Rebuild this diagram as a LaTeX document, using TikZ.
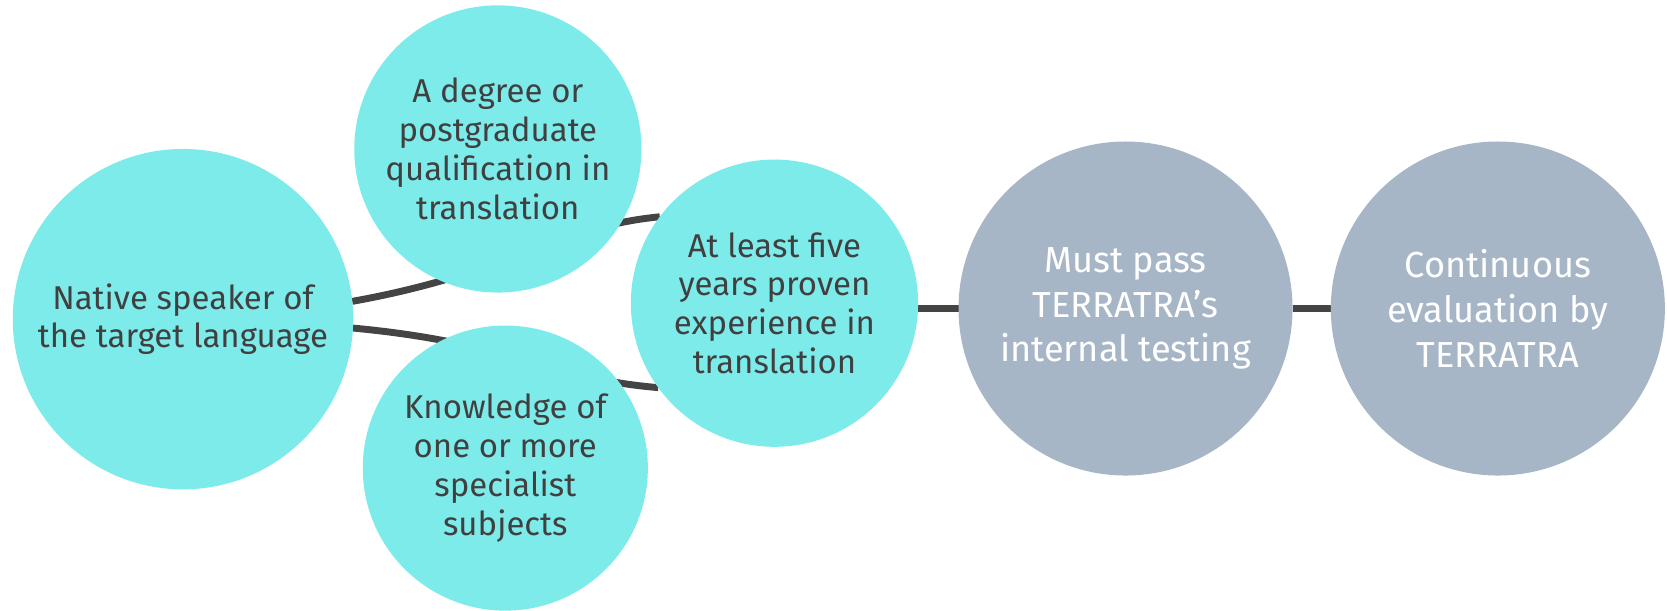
\documentclass[tikz,border=0pt]{standalone}
\usepackage{fontspec}
\setmainfont{Fira Sans}
\usetikzlibrary{backgrounds}
\definecolor{cyanfill}{HTML}{7EEBEB}
\definecolor{grayfill}{HTML}{A6B6C6}
\definecolor{ink}{HTML}{404040}
\definecolor{linec}{HTML}{444444}
\tikzset{
  bubble/.style={circle, draw=none, inner sep=0pt, outer sep=0pt, align=center,
    minimum size=#1},
  cyanbub/.style={bubble=#1, fill=cyanfill, text=ink, font=\fontsize{31}{36.5}\selectfont},
  graybub/.style={bubble=#1, fill=grayfill, text=white, font=\fontsize{34}{42}\selectfont},
  link/.style={draw=linec, line width=6.5pt}
}
\begin{document}
\begin{tikzpicture}[x=1pt,y=-1pt]
\useasboundingbox (0,0) rectangle (1567,574);
\node[cyanbub=320pt] (native) at (172,300) {Native speaker of\\the target language};
\node[cyanbub=270pt] (degree) at (468,140) {A degree or\\postgraduate\\qualification in\\translation};
\node[cyanbub=268pt] (know) at (475,440) {Knowledge of\\one or more\\specialist\\subjects};
\node[cyanbub=270pt] (five) at (728,285) {At least five\\years proven\\experience in\\translation};
\node[graybub=314pt] (must) at (1058,290) {Must pass\\TERRATRA’s\\internal testing};
\node[graybub=314pt] (cont) at (1408,290) {Continuous\\evaluation by\\TERRATRA};
\begin{scope}[on background layer]
\draw[link] (native.6.5) .. controls +(150,-27) and +(-100,10) .. (five.143.8);
\draw[link] (native.-3) .. controls +(150,14) and +(-100,-8) .. (five.216.2);
\draw[link] (must.west) -- (must.west -| five.east);
\draw[link] (cont.west) -- (must.east);
\end{scope}
\end{tikzpicture}
\end{document}
